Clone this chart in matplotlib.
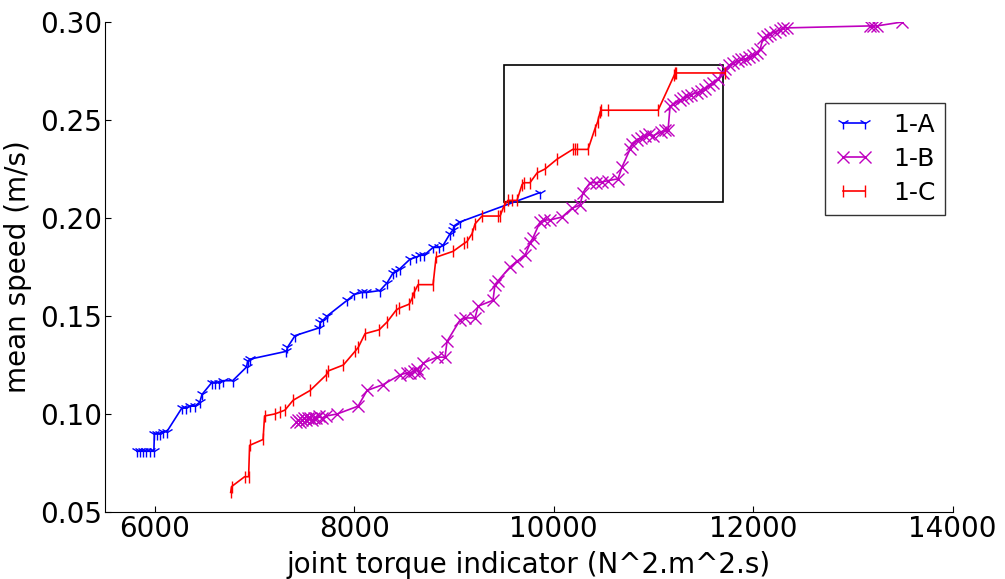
import numpy as np
import matplotlib
matplotlib.use("Agg")
import matplotlib.pyplot as plt
from matplotlib.patches import Rectangle

# series 1-A
a_x = [5820, 5850, 5880, 5910, 5950, 5990, 5995, 6020, 6050, 6080, 6120, 6270, 6310, 6350,
       6400, 6450, 6473, 6570, 6600, 6640, 6680, 6780, 6920, 6930, 6955, 7320, 7330, 7406,
       7650, 7660, 7690, 7727, 7928, 8000, 8078, 8120, 8258, 8330, 8389, 8420, 8455, 8559,
       8620, 8660, 8700, 8790, 8850, 8890, 8960, 8991, 9000, 9061, 9863]
a_y = [0.081, 0.081, 0.081, 0.081, 0.081, 0.081, 0.090, 0.090, 0.090, 0.091, 0.091, 0.103,
       0.103, 0.104, 0.104, 0.106, 0.110, 0.116, 0.116, 0.116, 0.117, 0.117, 0.124, 0.127,
       0.128, 0.132, 0.134, 0.140, 0.144, 0.147, 0.148, 0.150, 0.158, 0.161, 0.162, 0.162,
       0.163, 0.167, 0.172, 0.173, 0.174, 0.179, 0.180, 0.181, 0.181, 0.185, 0.185, 0.186,
       0.192, 0.194, 0.196, 0.198, 0.213]

# series 1-B
b_x = [7420, 7440, 7460, 7480, 7500, 7520, 7540, 7560, 7580, 7600, 7620, 7650, 7680, 7720,
       7827, 8038, 8128, 8289, 8459, 8530, 8560, 8600, 8630, 8650, 8690, 8830, 8910, 8930,
       9061, 9111, 9211, 9241, 9391, 9411, 9442, 9562, 9632, 9712, 9762, 9793, 9863, 9900,
       9963, 10083, 10184, 10264, 10294, 10364, 10420, 10485, 10540, 10645, 10685, 10765,
       10785, 10836, 10880, 10920, 10960, 10996, 11080, 11120, 11147, 11167, 11200, 11267,
       11300, 11340, 11380, 11437, 11480, 11520, 11560, 11599, 11650, 11699, 11720, 11760,
       11800, 11850, 11880, 11920, 11960, 12000, 12040, 12070, 12100, 12140, 12170, 12220,
       12270, 12300, 12340, 13170, 13200, 13240, 13494]
b_y = [0.096, 0.097, 0.096, 0.097, 0.098, 0.097, 0.098, 0.098, 0.097, 0.098, 0.098, 0.099,
       0.098, 0.099, 0.100, 0.104, 0.112, 0.115, 0.120, 0.121, 0.121, 0.122, 0.123, 0.121,
       0.126, 0.129, 0.129, 0.137, 0.148, 0.149, 0.149, 0.155, 0.158, 0.166, 0.168, 0.175,
       0.178, 0.181, 0.187, 0.190, 0.198, 0.199, 0.199, 0.2005, 0.205, 0.2066, 0.213, 0.218,
       0.218, 0.2184, 0.219, 0.220, 0.226, 0.235, 0.238, 0.240, 0.241, 0.242, 0.243, 0.242,
       0.244, 0.245, 0.245, 0.257, 0.258, 0.260, 0.261, 0.262, 0.263, 0.264, 0.265, 0.266,
       0.268, 0.269, 0.271, 0.274, 0.276, 0.278, 0.279, 0.280, 0.281, 0.281, 0.282, 0.283,
       0.284, 0.286, 0.292, 0.293, 0.294, 0.295, 0.296, 0.297, 0.297, 0.298, 0.298, 0.298,
       0.300]

# series 1-C
c_x = [6760, 6770, 6900, 6940, 6950, 7085, 7100, 7200, 7255, 7305, 7386, 7557, 7720, 7740,
       7890, 8008, 8040, 8108, 8250, 8330, 8420, 8450, 8549, 8580, 8600, 8640, 8790, 8820,
       8991, 9100, 9131, 9181, 9211, 9281, 9440, 9462, 9500, 9540, 9580, 9632, 9682, 9700,
       9762, 9833, 9913, 10033, 10190, 10214, 10230, 10344, 10410, 10440, 10465, 10475,
       10545, 11047, 11210, 11217, 11225, 11719]
c_y = [0.060, 0.063, 0.068, 0.068, 0.084, 0.087, 0.099, 0.100, 0.101, 0.102, 0.107, 0.112,
       0.120, 0.122, 0.125, 0.132, 0.134, 0.141, 0.143, 0.147, 0.153, 0.154, 0.156, 0.159,
       0.162, 0.166, 0.166, 0.180, 0.183, 0.187, 0.188, 0.192, 0.197, 0.201, 0.201, 0.201,
       0.206, 0.209, 0.209, 0.209, 0.217, 0.218, 0.218, 0.223, 0.225, 0.230, 0.235, 0.235,
       0.235, 0.235, 0.245, 0.249, 0.254, 0.255, 0.255, 0.255, 0.273, 0.274, 0.274, 0.274]

# zoom box
box_x = [9500, 11700]
box_y = [0.208, 0.278]

fig = plt.figure(figsize=(10.05, 5.79), dpi=100)
ax = fig.add_axes([0.1045, 0.1157, 0.8433, 0.8463])

ax.plot(a_x, a_y, color='b', marker='1', markersize=9, lw=1.2, label='1-A')
ax.plot(b_x, b_y, color='m', marker='x', markersize=9, lw=1.2, label='1-B')
ax.plot(c_x, c_y, color='r', marker='|', markersize=9, lw=1.2, label='1-C')

ax.add_patch(Rectangle((box_x[0], box_y[0]), box_x[1] - box_x[0], box_y[1] - box_y[0],
                       fill=False, edgecolor='k', lw=1.2))

ax.set_xlim(5500, 14000)
ax.set_ylim(0.05, 0.30)
ax.set_xticks([6000, 8000, 10000, 12000, 14000])
ax.set_yticks([0.05, 0.10, 0.15, 0.20, 0.25, 0.30])
ax.set_yticklabels(['%.2f' % v for v in [0.05, 0.10, 0.15, 0.20, 0.25, 0.30]])
ax.spines['top'].set_visible(False)
ax.spines['right'].set_visible(False)
ax.tick_params(direction='in', labelsize=20, length=4, pad=2, top=False, right=False)
ax.set_xlabel('joint torque indicator (N^2.m^2.s)', fontsize=20, labelpad=6)
ax.set_ylabel('mean speed (m/s)', fontsize=20, labelpad=6)

leg = ax.legend(loc='upper left', bbox_to_anchor=(0.850, 0.835), numpoints=2,
                fontsize=18, fancybox=False, handlelength=1.5, borderaxespad=0,
                labelspacing=0.4)
leg.get_frame().set_edgecolor('k')

fig.savefig('out.png', dpi=100)
